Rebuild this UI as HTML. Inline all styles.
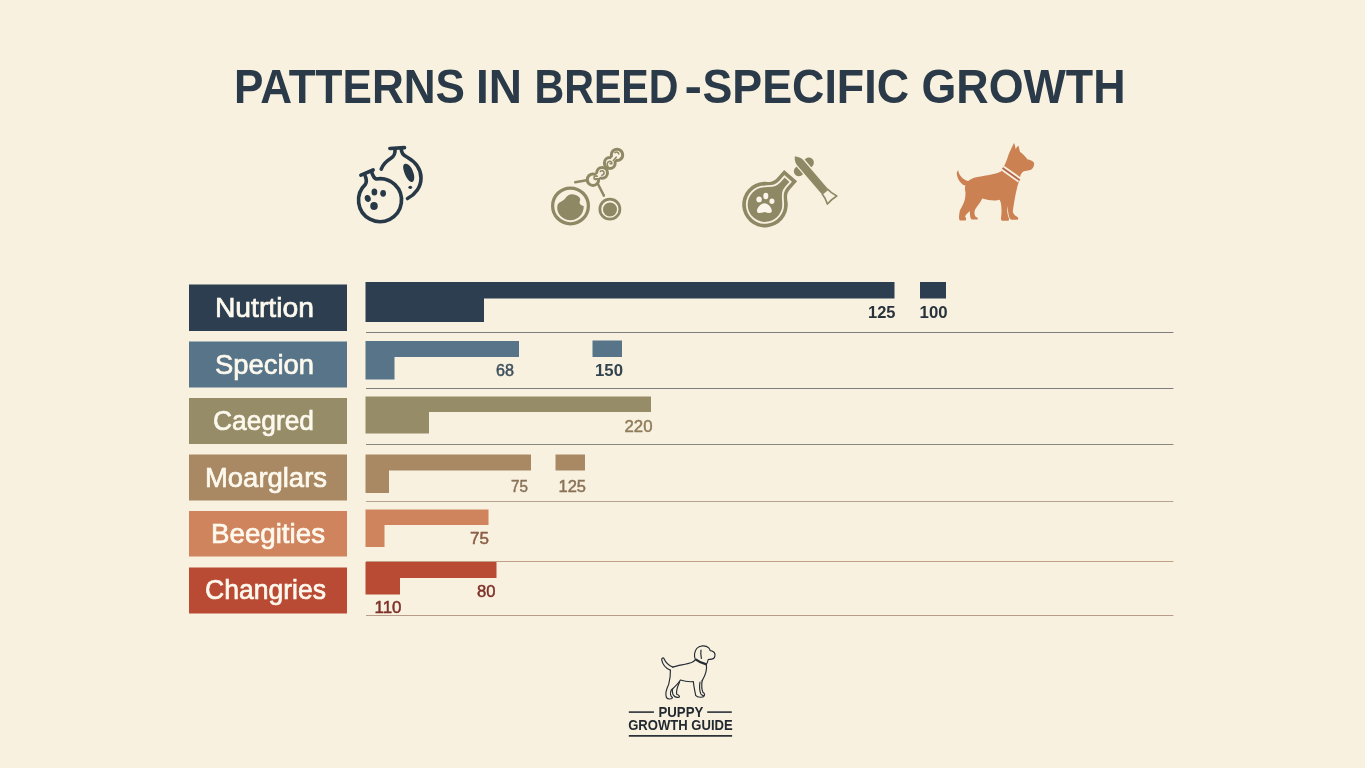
<!DOCTYPE html>
<html lang="en">
<head>
<meta charset="utf-8">
<title>Patterns in Breed-Specific Growth</title>
<style>
html,body{margin:0;padding:0;background:#f8f1e0;}
body{width:1365px;height:768px;overflow:hidden;font-family:"Liberation Sans",sans-serif;}
svg{display:block;position:absolute;left:0;top:0;}
text{font-family:"Liberation Sans",sans-serif;}
.lbl{fill:#fdf9ee;font-size:28.2px;stroke:#fdf9ee;stroke-width:.7px;}
.num{font-size:17px;stroke-width:.5px;}
</style>
</head>
<body>
<svg width="1365" height="768" viewBox="0 0 1365 768">
<rect width="1365" height="768" fill="#f8f1e0"/>

<!-- TITLE -->
<text id="title" y="103" font-size="48.7" font-weight="700" fill="#2b3a48"><tspan x="234" textLength="231" lengthAdjust="spacingAndGlyphs">PATTERNS</tspan> <tspan x="476" textLength="46" lengthAdjust="spacingAndGlyphs">IN</tspan> <tspan x="534.5" textLength="144" lengthAdjust="spacingAndGlyphs">BREED</tspan><tspan x="684.5" textLength="17.5" lengthAdjust="spacingAndGlyphs">-</tspan><tspan x="702.5" textLength="206.5" lengthAdjust="spacingAndGlyphs">SPECIFIC</tspan> <tspan x="921.5" textLength="204" lengthAdjust="spacingAndGlyphs">GROWTH</tspan></text>

<!-- ICONS -->
<g id="icons">
<!-- icon 1: two flasks (coords are 8x zoom of region origin 340,136) -->
<g transform="translate(340 136) scale(.125)" fill="none" stroke="#273847" stroke-width="29" stroke-linecap="round" stroke-linejoin="round">
<path d="M399 100L516 93"/>
<path d="M440 106C444 150 430 165 405 180C375 198 345 225 330 265"/>
<path d="M490 102C492 140 505 152 535 168C600 205 648 265 648 335C648 410 600 470 540 500"/>
<path d="M167 313L265 272"/>
<path d="M202 322C212 345 216 365 203 387A172 172 0 1 0 288 344C270 335 260 312 252 284"/>
<g stroke="none" fill="#273847">
<path d="M520 222C545 215 580 250 592 310C600 350 585 372 570 368C548 362 520 320 508 270C502 245 505 226 520 222Z"/>
<ellipse cx="562" cy="410" rx="15" ry="13"/>
<ellipse cx="275" cy="447" rx="23" ry="28"/>
<ellipse cx="345" cy="458" rx="23" ry="27"/>
<ellipse cx="222" cy="500" rx="24" ry="28" transform="rotate(-15 222 500)"/>
<ellipse cx="272" cy="560" rx="30" ry="32"/>
</g>
</g>
<!-- icon 2: chain with two circles (8x zoom, origin 540,140) -->
<g transform="translate(540 140) scale(.125)" fill="none" stroke="#8f8865" stroke-linecap="round" stroke-linejoin="round">
<circle cx="244" cy="527" r="143" stroke-width="26"/>
<path stroke="none" fill="#8f8865" d="M140 520C150 495 185 490 200 470C215 440 250 425 285 440C315 452 330 470 318 492C312 505 322 522 350 528C352 590 305 642 245 642C180 642 125 585 140 520Z"/>
<circle cx="559" cy="553" r="80" stroke-width="22"/>
<circle cx="560" cy="556" r="56" stroke="none" fill="#8f8865"/>
</g>
<g id="chain" fill="#8f8865">
<path fill="none" stroke="#8f8865" stroke-width="2.5" stroke-linecap="round" d="M575.2 182.3L586.5 180.3M598.2 184.5L603.9 195.6"/>
<circle cx="593" cy="179.7" r="7.2"/><circle cx="602.1" cy="172.8" r="6.9"/>
<g fill="#f8f1e0"><circle cx="593" cy="179.7" r="4.2"/><circle cx="602.1" cy="172.8" r="3.9"/></g>
<path stroke="#f8f1e0" stroke-width="4" fill="none" d="M593 179.7L602.1 172.8"/>
<circle cx="609.8" cy="163" r="6.9"/><circle cx="617" cy="154.9" r="7.2"/>
<g fill="#f8f1e0"><circle cx="609.8" cy="163" r="3.9"/><circle cx="617" cy="154.9" r="4.2"/></g>
<path stroke="#f8f1e0" stroke-width="4" fill="none" d="M609.8 163L617 154.9"/>
<path fill="none" stroke="#8f8865" stroke-width="1.6" stroke-linecap="round" d="M597.2 176.3C595.4 175.2 593.6 176.6 594 178.4C594.4 179.8 596.2 180 597 178.8H595.4M600.4 171.4C601.6 170.2 603.6 170.6 604 172.4C604.2 174 603.2 175 601.8 175.2M608 166.4C606.6 164.8 607 162.2 609 161.4C610.8 160.8 612 162 611.8 163.6H610M613.4 160.6L616.2 157.2M615 152.6C616.6 151.4 618.6 152.2 618.8 154"/>
</g>
<!-- icon 3: flask with paw + dropper -->
<g transform="translate(765 204.6) rotate(41.5)">
<path fill="#8f8865" d="M-8.65-38.7H8.65V-28C8.65-22 12-19.5 16-16.2A22.8 22.8 0 1 1-16-16.2C-12-19.5-8.65-22-8.65-28Z"/>
<path fill="none" stroke="#f8f1e0" stroke-width="1.8" d="M-4.1-34.1H4.1V-27C4.1-20.5 8-18 12.3-13.4A18.2 18.2 0 1 1-12.3-13.4C-8-18-4.1-20.5-4.1-27Z"/>
</g>
<g fill="#fbf6e9">
<path d="M764.5 203.3C768 203.3 772 208 771.8 211C771.6 213.6 768.5 213.2 764.6 212C760.5 213.2 757.3 213.8 757 211.2C756.7 208 761 203.3 764.5 203.3Z"/>
<ellipse cx="759.1" cy="199.4" rx="2.7" ry="2.9"/>
<ellipse cx="765.8" cy="196" rx="2.5" ry="3.3"/>
<ellipse cx="771.9" cy="201.2" rx="2.5" ry="2.7"/>
</g>
<g transform="translate(794.75 156.25) rotate(49.5)">
<rect x="9" y="-11.6" width="10" height="23.2" rx="5" fill="#8f8865"/>
<path fill="#8f8865" stroke="#f8f1e0" stroke-width="1.3" d="M-1 0C1.5-2.4 4-4.7 8-4.7H46.5V4.7H8C4 4.7 1.5 2.4-1 0Z"/>
<path fill="#f8f1e0" stroke="#8f8865" stroke-width="1.7" stroke-linejoin="round" d="M46.5-3.6C50-3.6 53.5-4.6 57.5-6.2C56.8-2 56.8 2 57.5 6.2C53.5 4.6 50 3.6 46.5 3.6Z"/>
</g>
<!-- icon 4: dog silhouette (8x zoom, origin 946,136) -->
<g transform="translate(946 136) scale(.125)">
<path fill="#cb8152" d="M97 273C104 315 135 348 178 360C192 348 205 340 225 333C290 318 380 310 440 283C465 250 485 200 500 150C515 115 530 80 545 55C552 70 555 90 557 105C563 95 570 82 578 75C584 90 588 110 592 125C610 140 635 160 650 185C670 190 695 198 705 215C706 235 700 255 680 270C660 278 635 278 615 285C605 295 598 305 595 318C590 340 580 375 572 400C568 420 562 440 558 460C550 500 540 560 535 600C535 620 545 635 575 650C580 660 578 668 572 670H525C512 668 505 650 500 625C497 605 493 580 490 560C488 590 490 625 500 650C507 662 505 675 498 678H450C440 676 438 660 442 640C446 610 444 570 440 540L430 510C400 520 340 517 290 500C275 535 245 565 232 590C224 612 228 635 240 648C255 652 258 662 252 668H208C196 664 192 645 190 600C178 612 160 628 152 642C162 652 163 668 157 675H112C102 668 102 645 110 600C115 585 135 560 150 510C156 485 157 460 155 445C150 425 150 408 156 396C125 392 96 355 87 310C85 295 88 280 97 273Z"/>
<path stroke="#f8f1e0" stroke-width="44" fill="none" d="M455 258L588 352"/>
<path stroke="#b5694a" stroke-width="15" fill="none" d="M452 256L590 354"/>
</g>
</g>

<!-- GRID LINES -->
<g id="lines" stroke-width="1">
<line x1="366" x2="1173.4" y1="332.5" y2="332.5" stroke="#7e7f7c"/>
<line x1="366" x2="1173.4" y1="388.5" y2="388.5" stroke="#7e7f7c"/>
<line x1="366" x2="1173.4" y1="444.5" y2="444.5" stroke="#8a877c"/>
<line x1="366" x2="1173.4" y1="501.5" y2="501.5" stroke="#b8a38c"/>
<line x1="366" x2="1173.4" y1="561.5" y2="561.5" stroke="#c2a088"/>
<line x1="366" x2="1173.4" y1="615.5" y2="615.5" stroke="#b89c8a"/>
</g>

<!-- LABEL BOXES -->
<g id="boxes">
<rect x="189" y="284.5" width="158" height="46.5" fill="#2c3e4f"/>
<rect x="189" y="341.5" width="158" height="46" fill="#577489"/>
<rect x="189" y="398" width="158" height="46" fill="#968c67"/>
<rect x="189" y="454.5" width="158" height="46" fill="#a98963"/>
<rect x="189" y="511" width="158" height="45.5" fill="#d0845e"/>
<rect x="189" y="567.5" width="158" height="46" fill="#b94a33"/>
</g>

<!-- BARS -->
<g id="bars">
<path fill="#2c3e4f" d="M365.5 282H894.5V298.5H484V322H365.5Z M920 282H946V298.5H920Z"/>
<path fill="#577489" d="M365.5 341H519V357H394.5V379.5H365.5Z M592.5 340.5H622V357H592.5Z"/>
<path fill="#968c67" d="M365.5 396.5H651V412H429V433.5H365.5Z"/>
<path fill="#a98963" d="M365.5 454.5H531V470.5H389V493H365.5Z M555.5 454.5H585V470.5H555.5Z"/>
<path fill="#d0845e" d="M365.5 509.5H488.5V525H384.5V547H365.5Z"/>
<path fill="#b94a33" d="M365.5 562H496.5V578H400V594.5H365.5Z"/>
</g>

<!-- LABEL TEXT -->
<g id="labels" class="lbl">
<text x="214.9" y="316.5" textLength="99.1" lengthAdjust="spacingAndGlyphs">Nutrtion</text>
<text x="215" y="373.5" textLength="99" lengthAdjust="spacingAndGlyphs">Specion</text>
<text x="213" y="430" textLength="101" lengthAdjust="spacingAndGlyphs">Caegred</text>
<text x="205" y="487" textLength="122" lengthAdjust="spacingAndGlyphs">Moarglars</text>
<text x="211" y="542.5" font-size="27.4" textLength="114" lengthAdjust="spacingAndGlyphs">Beegities</text>
<text x="205" y="599" textLength="121" lengthAdjust="spacingAndGlyphs">Changries</text>
</g>

<!-- NUMBERS -->
<g id="nums" class="num">
<text x="868" y="317.5" font-weight="700" fill="#28323b" textLength="27.5" lengthAdjust="spacingAndGlyphs">125</text>
<text x="919.6" y="317.5" font-weight="700" fill="#28323b" textLength="28" lengthAdjust="spacingAndGlyphs">100</text>
<text x="496" y="376" fill="#3f505d" stroke="#3f505d" textLength="18" lengthAdjust="spacingAndGlyphs">68</text>
<text x="595" y="376" font-weight="700" fill="#33434f" textLength="28" lengthAdjust="spacingAndGlyphs">150</text>
<text x="624.5" y="432" fill="#8f7d5c" stroke="#8f7d5c" textLength="28" lengthAdjust="spacingAndGlyphs">220</text>
<text x="511" y="491.5" fill="#8a7357" stroke="#8a7357" textLength="17" lengthAdjust="spacingAndGlyphs">75</text>
<text x="558.5" y="491.5" fill="#8a7357" stroke="#8a7357" textLength="27.5" lengthAdjust="spacingAndGlyphs">125</text>
<text x="470" y="543.5" fill="#8b5e45" stroke="#8b5e45" textLength="19" lengthAdjust="spacingAndGlyphs">75</text>
<text x="477" y="597" fill="#7e3129" stroke="#7e3129" textLength="18.5" lengthAdjust="spacingAndGlyphs">80</text>
<text x="374.5" y="613" fill="#7e3129" stroke="#7e3129" textLength="27" lengthAdjust="spacingAndGlyphs">110</text>
</g>

<!-- FOOTER -->
<g id="footer">
<!-- puppy outline (12x zoom, origin 650,640) -->
<g transform="translate(650 640) scale(.0833333)" fill="none" stroke="#252d35" stroke-width="14" stroke-linecap="round" stroke-linejoin="round">
<path d="M275 325C235 310 190 275 165 218C158 210 142 215 140 235C150 290 190 340 245 362"/>
<path d="M275 325C340 302 430 295 500 270C520 260 535 248 545 235C528 195 528 150 560 102C590 66 665 55 705 95C714 105 719 118 722 128C745 130 772 140 779 168C783 200 768 226 740 230C725 233 710 232 698 234C696 252 688 272 676 292C685 340 672 410 625 490"/>
<path d="M612 122C606 160 612 200 617 222"/>
<path stroke-width="26" stroke-linecap="butt" d="M548 232C585 262 630 280 676 292"/>
<path d="M625 490C618 540 622 600 636 630C655 640 660 658 648 672C640 690 570 695 548 665C540 620 525 560 520 500C460 505 400 492 365 480C340 520 290 570 255 600C238 640 245 680 270 690C268 712 215 715 198 692C180 650 195 590 225 530C240 470 246 400 245 362"/>
<path d="M600 505C590 560 595 610 610 648C620 660 632 668 645 670"/>
<path d="M355 505C330 560 312 610 320 650C345 660 360 672 350 685C320 695 290 680 275 650C262 620 266 600 272 588"/>
</g>
<text x="658.5" y="716.6" font-size="14.5" font-weight="700" fill="#222a30" textLength="44.8" lengthAdjust="spacingAndGlyphs">PUPPY</text>
<text x="628.2" y="729.9" font-size="14.7" font-weight="700" fill="#222a30" textLength="104.5" lengthAdjust="spacingAndGlyphs">GROWTH GUIDE</text>
<g stroke="#2b3238">
<line x1="628.8" x2="653.9" y1="712.1" y2="712.1" stroke-width="1.6"/>
<line x1="707.2" x2="731.8" y1="712.1" y2="712.1" stroke-width="1.6"/>
<line x1="628.8" x2="732.1" y1="735.8" y2="735.8" stroke-width="1.7"/>
</g>
</g>
</svg>
</body>
</html>
